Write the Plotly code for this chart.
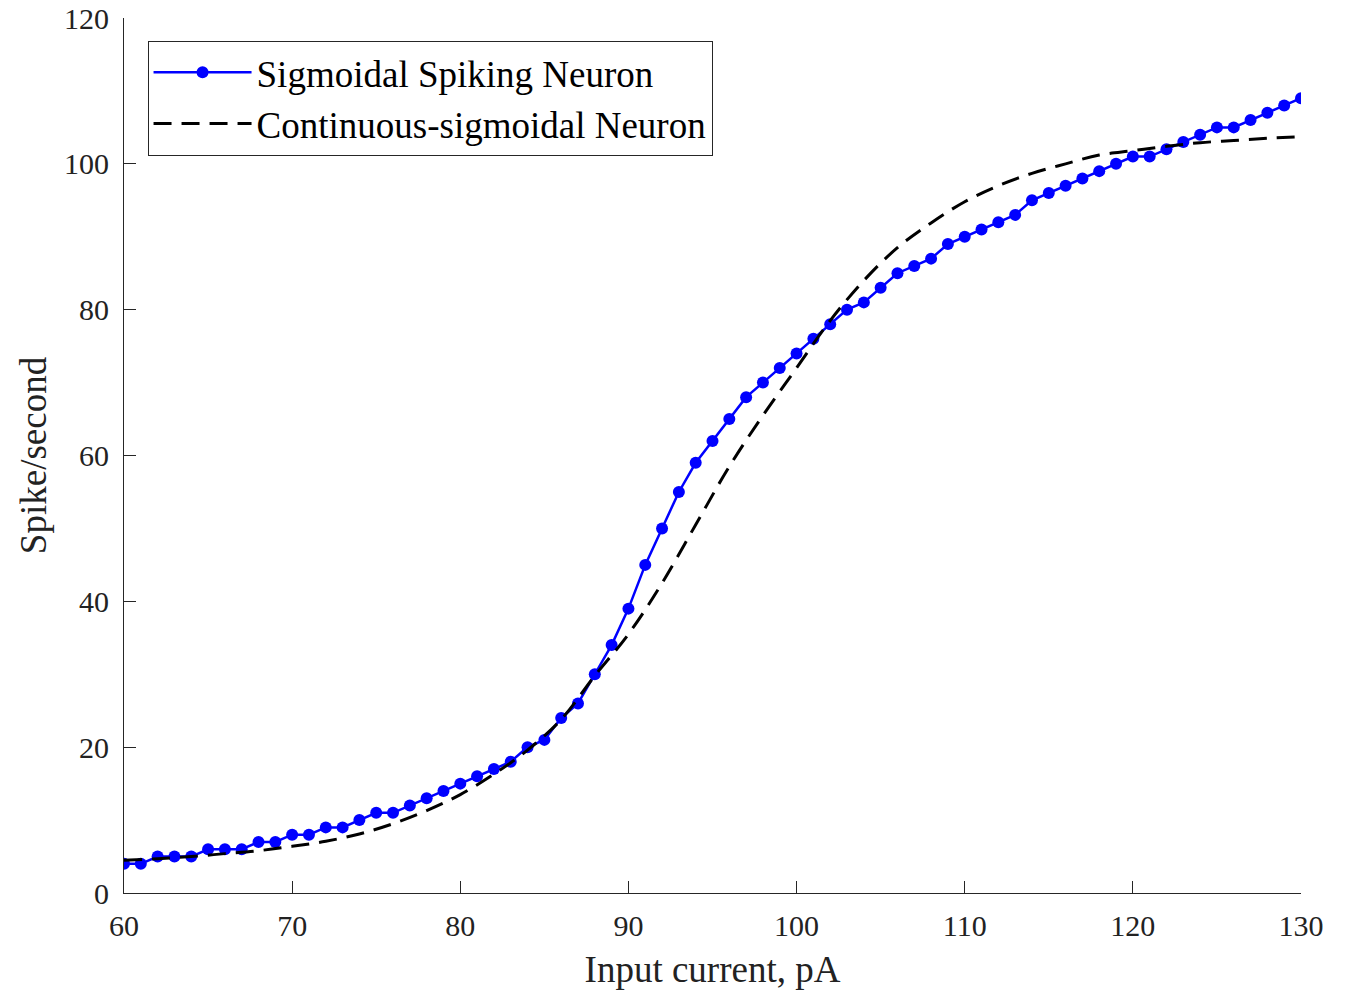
import plotly.graph_objects as go

# ── Data ─────────────────────────────────────────────────────────────────────
current_pa = list(range(60, 131))
spiking_rate = [
    4, 4, 5, 5, 5, 6, 6, 6, 7, 7,             # 60-69
    8, 8, 9, 9, 10, 11, 11, 12, 13, 14,       # 70-79
    15, 16, 17, 18, 20, 21, 24, 26, 30, 34,   # 80-89
    39, 45, 50, 55, 59, 62, 65, 68, 70, 72,   # 90-99
    74, 76, 78, 80, 81, 83, 85, 86, 87, 89,   # 100-109
    90, 91, 92, 93, 95, 96, 97, 98, 99, 100,  # 110-119
    101, 101, 102, 103, 104, 105, 105, 106, 107, 108,  # 120-129
    109,                                      # 130
]

sigmoid_current = list(range(60, 131, 2))
sigmoid_rate = [
    4.5, 4.7, 5.0, 5.4, 5.8, 6.4, 7.1, 8.1, 9.5, 11.3,
    13.5, 16.3, 19.6, 23.8, 29.8, 35.5, 42.5, 50.5, 58.5, 65.5,
    72.0, 78.5, 84.0, 88.5, 91.9, 94.8, 97.0, 98.7, 100.0, 101.2,
    101.8, 102.4, 102.9, 103.2, 103.5, 103.7,
]

FONT = "Liberation Serif, Times New Roman, serif"
AXIS_COLOR = "#262626"

fig = go.Figure()

fig.add_trace(go.Scatter(
    x=current_pa,
    y=spiking_rate,
    mode="lines+markers",
    name="Sigmoidal Spiking Neuron",
    line=dict(color="#0000ff", width=2.5),
    marker=dict(color="#0000ff", size=12),
))

fig.add_trace(go.Scatter(
    x=sigmoid_current,
    y=sigmoid_rate,
    mode="lines",
    name="Continuous-sigmoidal Neuron",
    line=dict(color="black", width=3, dash="18px,10px", shape="spline"),
))

fig.update_layout(
    width=1348,
    height=990,
    margin=dict(l=124, r=47, t=18, b=97),
    plot_bgcolor="white",
    paper_bgcolor="white",
    font=dict(family=FONT, size=30, color="#222222"),
    showlegend=True,
    legend=dict(
        x=0.020, y=0.974,
        xanchor="left", yanchor="top",
        bordercolor=AXIS_COLOR, borderwidth=1,
        bgcolor="white",
        font=dict(family=FONT, size=37, color="black"),
        itemwidth=98,
        tracegroupgap=0,
    ),
    xaxis=dict(
        range=[60, 130],
        tickvals=[60, 70, 80, 90, 100, 110, 120, 130],
        showgrid=False, zeroline=False,
        showline=True, linecolor=AXIS_COLOR, linewidth=1,
        ticks="inside", ticklen=12, tickcolor=AXIS_COLOR,
        tickfont=dict(size=30), ticklabelstandoff=6,
        ticklabeloverflow="allow", automargin=False,
        title=dict(text="Input current, pA", font=dict(size=37), standoff=28),
    ),
    yaxis=dict(
        range=[0, 120],
        tickvals=[0, 20, 40, 60, 80, 100, 120],
        showgrid=False, zeroline=False,
        showline=True, linecolor=AXIS_COLOR, linewidth=1,
        ticks="inside", ticklen=12, tickcolor=AXIS_COLOR,
        tickfont=dict(size=30), ticklabelstandoff=8,
        ticklabeloverflow="allow", automargin=False,
        title=dict(text="Spike/second", font=dict(size=37), standoff=6),
    ),
)

# drop the default 8px body margin so the figure fills the window exactly
fig.write_html(
    "out.html",
    config={"displayModeBar": False},
    post_script="document.body.style.margin='0';",
)
